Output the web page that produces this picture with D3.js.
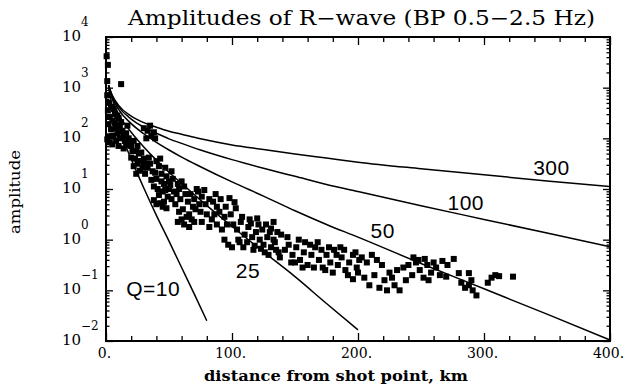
<!DOCTYPE html>
<html>
<head>
<meta charset="utf-8">
<script src="https://cdn.jsdelivr.net/npm/d3@7"></script>
<style>
  body { margin: 0; background: #fff; }
  text { fill: #000; }
</style>
</head>
<body>
<svg id="svg"></svg>
<script>
// measured points: [distance km, log10 amplitude]
const rwavePoints = [
  [0.5,3.62],[1.5,3.45],[1,3.13],[12,3.07],
  [1,2.85],[2,2.7],[1.5,2.55],[3,2.42],[2,2.28],[4,2.18],[3,2.04],[5,2.35],[6,2.58],[1,1.98],[7,2.48],[4,2.62],
  [3,1.92],[5,1.88],[8,2.2],[10,2.4],[14,2.05],[18,2.0],[14,1.8],[11,2.25],[9,2.45],[5,2.05],[16,2.1],[20,1.85],
  [7,2.3],[9,2.1],[11,2.0],[13,2.15],[15,1.95],[10,1.85],[17,2.25],[19,1.92],[8,1.95],[12,2.32],[16,1.86],[6,2.05],
  [21,1.75],[23,1.6],[25,1.5],[22,1.45],[27,1.36],[28,1.55],[24,1.3],[20,1.62],[26,1.7],
  [22,1.95],[25,1.85],[28,1.72],[30,1.6],[32,1.5],[26,1.55],[29,1.42],[31,1.3],[34,1.62],[30,1.45],[24,1.75],
  [30,2.2],[33,2.15],[36,2.05],[39,2.0],[32,2.0],[35,2.25],[38,2.12],
  [33,1.42],[35,1.5],[37,1.35],[40,1.2],[42,1.45],[44,1.3],[46,1.1],[48,1.25],[38,1.05],[45,0.95],[50,1.15],[36,1.18],[41,1.0],
  [40,1.55],[43,1.6],[47,1.42],[52,1.35],[39,1.32],[44,1.15],[47,0.98],[51,1.08],[54,0.95],[42,0.88],[40,0.7],[48,0.62],[45,0.65],
  [38,0.78],[43,0.72],[46,0.75],
  [50,1.0],[53,1.2],[57,1.1],[60,1.15],[62,1.05],[52,0.8],[55,0.7],[58,0.55],[61,0.6],[64,0.45],[66,0.5],[68,0.4],[49,0.85],[56,0.9],[59,0.8],
  [58,1.0],[63,0.9],[65,0.75],[69,0.65],[74,0.7],[62,0.3],[66,0.25],[70,0.35],[60,0.4],[57,0.35],
  [67,0.9],[70,0.8],[73,0.95],[76,0.85],[79,0.7],[82,0.8],[85,0.75],[88,0.65],[71,0.6],[75,0.55],[80,0.5],[84,0.4],[90,0.55],[72,1.0],[78,0.98],[87,0.9],
  [76,0.35],[82,0.25],[88,0.3],[92,0.2],[96,0.3],[86,0.5],[91,0.8],[94,0.45],[98,0.82],
  [95,0.65],[99,0.5],[103,0.62],[102,0.74],
  [101,0.3],[104,0.2],[107,0.35],[110,0.1],[113,0.25],[116,0.05],[119,0.15],[122,0.0],[125,-0.1],[128,0.05],[131,-0.15],[134,-0.05],[137,-0.25],[112,-0.05],[118,-0.12],[124,0.2],[130,0.15],[108,0.45],[115,0.32],[121,0.3],
  [105,0.0],[109,-0.15],[114,0.4],[117,-0.2],[120,0.42],[127,0.3],[133,0.35],[126,-0.25],[129,-0.3],[123,-0.18],
  [94,0.0],[97,-0.1],[100,-0.15],[106,-0.05],
  [131,0.22],[133,0.0],[135,-0.2],[138,-0.35],[139,0.1],[136,0.15],
  [142,-0.2],[145,-0.1],[148,-0.3],[151,-0.15],[154,-0.4],[157,-0.25],[160,-0.5],[163,-0.3],[166,-0.15],[169,-0.4],[172,-0.55],[175,-0.3],[178,-0.45],[181,-0.2],[184,-0.5],[187,-0.35],[190,-0.6],[193,-0.45],[196,-0.3],[199,-0.55],[201,-0.4],[150,-0.45],[158,-0.05],[171,-0.2],[186,-0.15],
  [144,0.05],[147,-0.45],[153,0.0],[156,-0.55],[162,-0.1],[165,-0.55],[168,-0.05],[174,-0.6],[177,-0.15],[180,-0.65],[183,-0.3],[189,-0.2],[192,-0.7],
  [196,-0.78],
  [198,-0.25],[203,-0.35],[207,-0.45],[211,-0.3],[215,-0.4],[219,-0.5],
  [205,-0.75],[209,-0.9],[213,-0.7],[217,-0.95],[221,-0.8],[225,-0.65],[229,-0.9],[233,-1.0],[223,-1.0],
  [200,-0.65],[227,-0.75],[236,-0.55],[238,-0.8],[231,-0.6],[248,-0.4],[260,-0.45],[256,-0.8],
  [240,-0.5],[243,-0.7],[246,-0.45],[249,-0.6],[252,-0.75],[255,-0.5],[258,-0.65],[262,-0.55],[265,-0.7],[244,-0.35],[253,-0.38],
  [267,-0.42],[271,-0.5],[276,-0.38],[270,-0.73],[280,-0.66],[288,-0.66],
  [282,-0.85],[285,-0.95],[288,-0.9],[291,-1.0],[294,-1.1],[290,-0.8],
  [303,-0.85],[306,-0.75],[309,-0.7],[312,-0.72],[323,-0.73]
];

// Q model curves (log10 amplitude)
const curveDist = [2,5,10,20,30,40,50,60,75,100,125,150,175,200,250,300,350,400];
const q300 = [3.05,2.85,2.65,2.44,2.31,2.22,2.14,2.08,1.99,1.87,1.78,1.69,1.61,1.53,1.40,1.28,1.16,1.05];
const q100 = [3.05,2.83,2.62,2.38,2.22,2.10,1.99,1.90,1.77,1.58,1.41,1.25,1.09,0.95,0.67,0.40,0.13,-0.14];
const q50  = [3.05,2.81,2.57,2.29,2.09,1.92,1.77,1.63,1.44,1.14,0.86,0.57,0.30,0.05,-0.47,-0.97,-1.47,-1.98];
const q25Dist = [2,5,10,20,30,40,50,60,75,100,125,150,175,200];
const q25  = [3.04,2.77,2.48,2.12,1.83,1.57,1.33,1.11,0.78,0.26,-0.24,-0.73,-1.26,-1.78];
const q10Dist = [2,5,10,20,30,40,50,60,70,80];
const q10  = [3.0,2.63,2.22,1.59,1.02,0.48,-0.03,-0.55,-1.07,-1.6];

const curveLabels = [
  {text: "300",  d: 339, e: 1.28},
  {text: "100",  d: 271, e: 0.58},
  {text: "50",   d: 210, e: 0.04},
  {text: "25",   d: 103, e: -0.76},
  {text: "Q=10", d: 16,  e: -1.12}
];

const xMajor = [0, 100, 200, 300, 400];
const xMinor = d3.range(20, 400, 20).filter(d => d % 100 != 0);
const yExp = [-2, -1, 0, 1, 2, 3, 4];

const W = 627, H = 388;
const plotLeft = 106, plotRight = 610, plotTop = 37, plotBottom = 341;

const svg = d3.select("#svg").attr("width", W).attr("height", H);

const xScale = d3.scaleLinear().domain([0, 400]).range([plotLeft, plotRight]);
const yScale = d3.scaleLog().domain([1e-2, 1e4]).range([plotBottom, plotTop]);

const yMinor = [];
yExp.slice(0, -1).forEach(e => {
  for (let m = 2; m <= 9; m++) yMinor.push(m * Math.pow(10, e));
});

function styleAxis(g) {
  g.select(".domain").remove();
  g.selectAll(".tick line").attr("stroke", "#000").attr("stroke-width", 1.3);
}

// x ticks, bottom and top, pointing inward
svg.append("g").attr("transform", `translate(0,${plotBottom})`)
  .call(d3.axisBottom(xScale).tickValues(xMajor).tickSize(-8).tickPadding(7).tickFormat(d => d + "."))
  .call(styleAxis)
  .selectAll("text")
  .attr("font-family", "DejaVu Serif").attr("font-size", 14).attr("dx", -2);
svg.append("g").attr("transform", `translate(0,${plotBottom})`)
  .call(d3.axisBottom(xScale).tickValues(xMinor).tickSize(-5).tickFormat(""))
  .call(styleAxis);
svg.append("g").attr("transform", `translate(0,${plotTop})`)
  .call(d3.axisTop(xScale).tickValues(xMajor).tickSize(-8).tickFormat(""))
  .call(styleAxis);
svg.append("g").attr("transform", `translate(0,${plotTop})`)
  .call(d3.axisTop(xScale).tickValues(xMinor).tickSize(-5).tickFormat(""))
  .call(styleAxis);

// y ticks, left and right
const decades = yExp.map(e => Math.pow(10, e));
svg.append("g").attr("transform", `translate(${plotLeft},0)`)
  .call(d3.axisLeft(yScale).tickValues(decades).tickSize(-7).tickFormat(""))
  .call(styleAxis);
svg.append("g").attr("transform", `translate(${plotLeft},0)`)
  .call(d3.axisLeft(yScale).tickValues(yMinor).tickSize(-3.5).tickFormat(""))
  .call(styleAxis);
svg.append("g").attr("transform", `translate(${plotRight},0)`)
  .call(d3.axisRight(yScale).tickValues(decades).tickSize(-7).tickFormat(""))
  .call(styleAxis);
svg.append("g").attr("transform", `translate(${plotRight},0)`)
  .call(d3.axisRight(yScale).tickValues(yMinor).tickSize(-3.5).tickFormat(""))
  .call(styleAxis);

// y labels as 10 with exponent
const yLab = svg.append("g").attr("font-family", "DejaVu Serif");
yExp.forEach(e => {
  const yy = yScale(Math.pow(10, e));
  yLab.append("text").attr("x", 81).attr("y", yy + 4)
    .attr("text-anchor", "end").attr("font-size", 15).text("10");
  yLab.append("text").attr("x", 81).attr("y", yy - 11)
    .attr("font-size", 12).text(String(e).replace("-", "\u2212"));
});

// frame
svg.append("rect")
  .attr("x", plotLeft).attr("y", plotTop)
  .attr("width", plotRight - plotLeft).attr("height", plotBottom - plotTop)
  .attr("fill", "none").attr("stroke", "#000").attr("stroke-width", 2);

// Q curves
const line = d3.line()
  .x(d => xScale(d[0]))
  .y(d => yScale(Math.pow(10, d[1])))
  .curve(d3.curveMonotoneX);

const curves = [
  d3.zip(curveDist, q300),
  d3.zip(curveDist, q100),
  d3.zip(curveDist, q50),
  d3.zip(q25Dist, q25),
  d3.zip(q10Dist, q10)
];
svg.append("g").selectAll("path")
  .data(curves)
  .join("path")
  .attr("d", line)
  .attr("fill", "none")
  .attr("stroke", "#000")
  .attr("stroke-width", 1.5);

// data squares
const sq = 6;
svg.append("g").selectAll("rect")
  .data(rwavePoints)
  .join("rect")
  .attr("x", d => xScale(d[0]) - sq / 2)
  .attr("y", d => yScale(Math.pow(10, d[1])) - sq / 2)
  .attr("width", sq).attr("height", sq)
  .attr("fill", "#000");

// curve labels
svg.append("g").selectAll("text")
  .data(curveLabels)
  .join("text")
  .attr("x", d => xScale(d.d))
  .attr("y", d => yScale(Math.pow(10, d.e)))
  .attr("font-family", "Liberation Sans")
  .attr("font-size", 21)
  .attr("letter-spacing", 0.5)
  .text(d => d.text);

// titles
svg.append("text")
  .attr("x", 128).attr("y", 25)
  .attr("font-family", "DejaVu Serif").attr("font-size", 20)
  .attr("textLength", 467).attr("lengthAdjust", "spacingAndGlyphs")
  .text("Amplitudes of R\u2212wave (BP 0.5\u22122.5 Hz)");

svg.append("text")
  .attr("x", 204).attr("y", 381)
  .attr("font-family", "DejaVu Serif").attr("font-size", 14).attr("font-weight", "bold")
  .attr("textLength", 264).attr("lengthAdjust", "spacingAndGlyphs")
  .text("distance from shot point, km");

svg.append("text")
  .attr("transform", "translate(20,192) rotate(-90)")
  .attr("text-anchor", "middle")
  .attr("font-family", "DejaVu Serif").attr("font-size", 15)
  .attr("textLength", 84).attr("lengthAdjust", "spacingAndGlyphs")
  .text("amplitude");
</script>
</body>
</html>
